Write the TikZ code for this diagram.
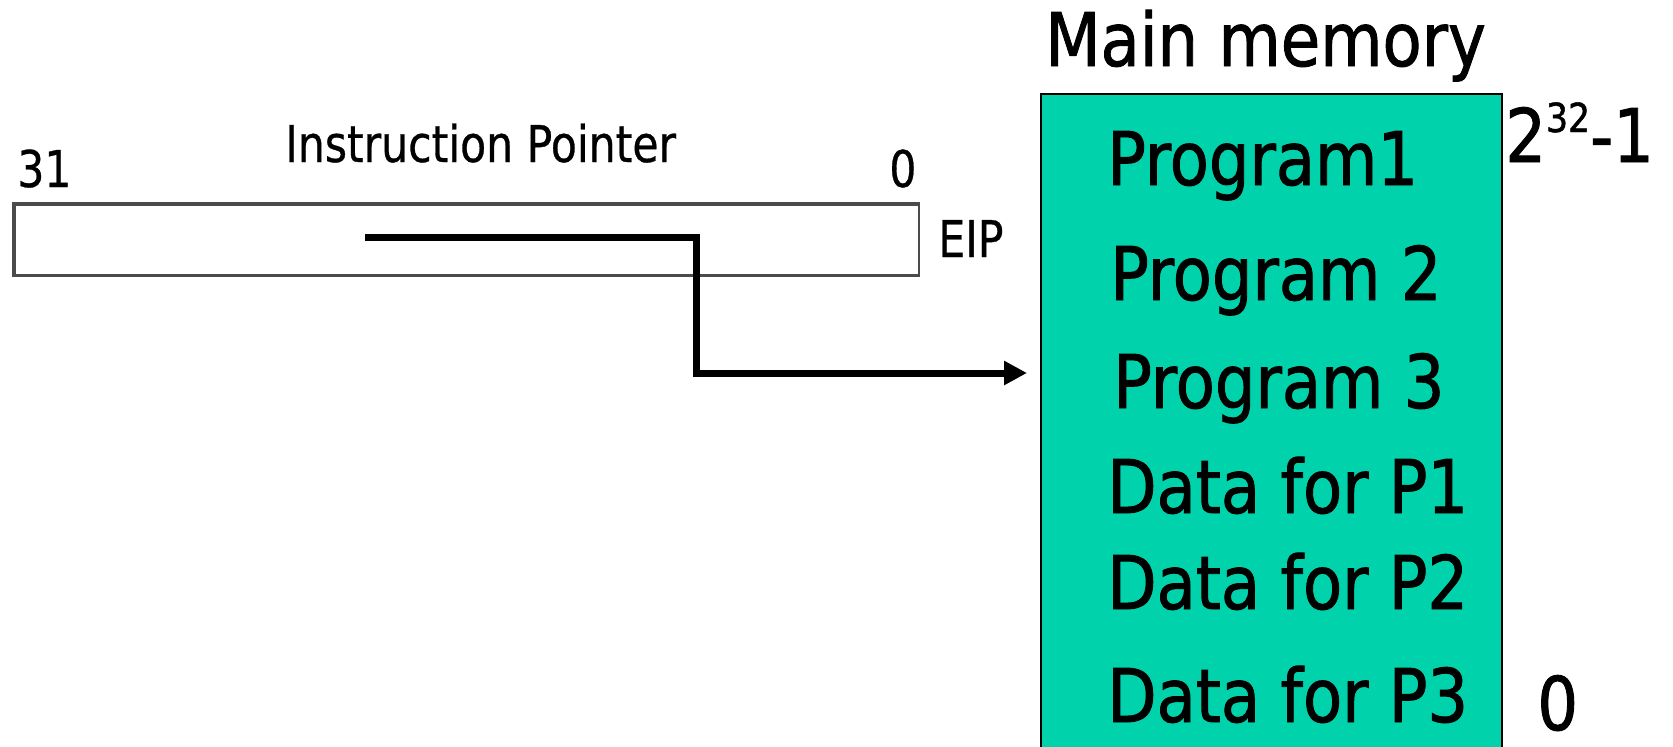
\documentclass[tikz,border=0pt]{standalone}
\usepackage{fontspec}
\usetikzlibrary{arrows.meta}
\newfontfamily\bigsans[FakeStretch=0.865,FakeBold=1.2]{DejaVu Sans}
\newfontfamily\regsans[FakeStretch=0.84,FakeBold=0.6]{DejaVu Sans}
\definecolor{memteal}{RGB}{0,211,172}
\definecolor{reggray}{RGB}{75,75,75}
\begin{document}
\begin{tikzpicture}[x=0.6pt,y=-0.6pt,
  lbl/.style={inner sep=0pt, anchor=base west},
  big/.style={lbl, font=\bigsans\fontsize{44.4}{50}\selectfont},
  small/.style={lbl, font=\regsans\fontsize{30.4}{34}\selectfont},
  membox/.style={draw=black, line width=1.4pt, fill=memteal, inner sep=0pt,
    anchor=north west, minimum width=276.6pt, minimum height=420pt},
  regbox/.style={draw=reggray, line width=1.2pt, fill=white, inner sep=0pt,
    anchor=north west, minimum width=542.7pt, minimum height=42pt},
  regedge/.style={draw=reggray, line width=2.1pt, line join=miter},
  ptr/.style={line width=4.2pt, line join=miter,
    -{Triangle[length=13.8pt,width=13.8pt]}}]
\useasboundingbox (0,0) rectangle (1673,747);

% register, heavier on the top, left and bottom sides
\node[regbox] (eip) at (13.5,203.5) {};
\draw[regedge] (eip.north east) -- (eip.north west) -- (eip.south west) -- (eip.south east);
\node[small] (hi)   at (17,187)  {31};
\node[small] (name) at (285,162) {Instruction Pointer};
\node[small] (lo)   at (889,187) {0};
\node[small] (reg)  at (938,257) {EIP};

% main memory
\node[big] (title) at (1045,66) {Main memory};
\node[membox] (mem) at (1040,93) {};
\node[big] (p1) at (1107,185) {Program1};
\node[big] (p2) at (1110,300) {Program 2};
\node[big] (p3) at (1113,408) {Program 3};
\node[big] (d1) at (1107,513) {Data for P1};
\node[big] (d2) at (1107,609) {Data for P2};
\node[big] (d3) at (1107,722) {Data for P3};
\node[big] (top) at (1505,162)
  {2\raisebox{18pt}{\fontsize{24}{28}\selectfont 32}-1};
\node[big] (bot) at (1537,730) {0};

% pointer into memory
\coordinate (ip)   at (365,237);
\coordinate (bend) at (696,237);
\coordinate (tip)  at (1027,373);
\draw[ptr] (ip) -- (bend) |- (tip);
\end{tikzpicture}
\end{document}
